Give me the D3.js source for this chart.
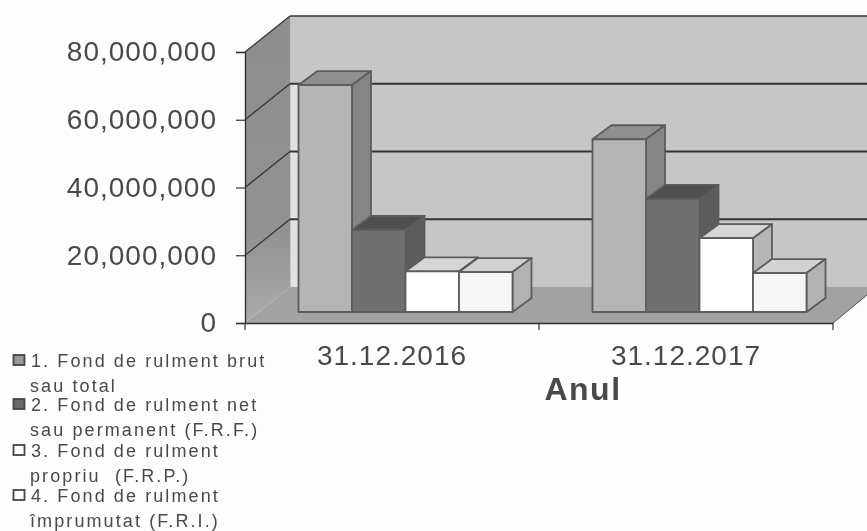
<!DOCTYPE html>
<html lang="en">
<head>
<meta charset="UTF-8">
<title>Fond de rulment</title>
<script src="https://d3js.org/d3.v7.min.js"></script>
<style>
  html, body { margin: 0; padding: 0; background: #fdfdfd; }
  svg { display: block; }
  text { font-family: "Liberation Sans", Arial, sans-serif; fill: #4a4a4a; }
  .axis-y text { font-size: 28px; letter-spacing: 1px; }
  .axis-x text { font-size: 28px; letter-spacing: 1px; }
  .axis-title { font-size: 32px; font-weight: bold; letter-spacing: 1.5px; }
  .legend text { font-size: 18px; letter-spacing: 2.1px; }
</style>
</head>
<body>
<div id="chart"></div>
<script>
// Values
const years = ["31.12.2016", "31.12.2017"];
const seriesNames = [
  ["1. Fond de rulment brut", "sau total"],
  ["2. Fond de rulment net", "sau permanent (F.R.F.)"],
  ["3. Fond de rulment", "propriu  (F.R.P.)"],
  ["4. Fond de rulment", "împrumutat (F.R.I.)"]
];
const brut = [67000000, 51000000];
const net = [24200000, 33400000];
const propriu = [12000000, 21800000];
const imprumutat = [11800000, 11500000];
const yTicks = [0, 20000000, 40000000, 60000000, 80000000];

const seriesValues = [brut, net, propriu, imprumutat];
const fronts = ["#b5b5b5", "#707070", "#ffffff", "#f6f6f6"];
const tops = ["#8f8f8f", "#505050", "#d6d6d6", "#d2d2d2"];
const sides = ["#858585", "#5c5c5c", "#b6b6b6", "#b2b2b2"];
const legendFill = ["#9a9a9a", "#6a6a6a", "#ffffff", "#ffffff"];

const width = 867, height = 531;
const x0 = 245, x1 = 833, yBase = 323, yTop = 52;
const wallDx = 45, wallDy = -36;   // fake 3D depth of the box
const barDx = 13.5, barDy = -11;   // where the bars stand in the box
const depthDx = 19, depthDy = -14; // depth of a bar
const line = "#333";

const x = d3.scaleBand().domain(years).range([x0, x1]);
const seriesX = d3.scaleBand().domain(d3.range(4)).range([0, 214]);
const y = d3.scaleLinear().domain([0, 80000000]).range([yBase, yTop]);

const svg = d3.select("#chart").append("svg")
  .attr("width", width).attr("height", height);

const defs = svg.append("defs");
defs.append("filter").attr("id", "scan")
  .append("feGaussianBlur").attr("stdDeviation", 0.7);
const grad = defs.append("linearGradient").attr("id", "sideWall")
  .attr("x1", 0).attr("y1", 0).attr("x2", 0).attr("y2", 1);
grad.append("stop").attr("offset", "0%").attr("stop-color", "#8d8d8d");
grad.append("stop").attr("offset", "70%").attr("stop-color", "#929292");
grad.append("stop").attr("offset", "100%").attr("stop-color", "#ababab");

const g = svg.append("g").attr("filter", "url(#scan)");
const poly = pts => pts.map(p => p.join(",")).join(" ");
const backX = x0 + wallDx;

// back wall, side wall, floor
g.append("rect")
  .attr("x", backX).attr("y", yTop + wallDy)
  .attr("width", width - backX).attr("height", yBase - yTop)
  .attr("fill", "#c6c6c6");
g.append("rect")
  .attr("x", backX + 1).attr("y", y(60000000) + wallDy)
  .attr("width", 8).attr("height", y(0) - y(60000000))
  .attr("fill", "#e2e2e2");
g.append("polygon")
  .attr("points", poly([[x0, yTop], [backX, yTop + wallDy], [backX, yBase + wallDy], [x0, yBase]]))
  .attr("fill", "url(#sideWall)");
g.append("polygon")
  .attr("points", poly([[x0, yBase], [backX, yBase + wallDy], [width, yBase + wallDy], [width, yBase - 28], [x1, yBase]]))
  .attr("fill", "#a2a2a2");

// grid lines run up the side wall and along the back
yTicks.slice(1).forEach(t => {
  g.append("line")
    .attr("x1", x0).attr("y1", y(t)).attr("x2", backX).attr("y2", y(t) + wallDy)
    .attr("stroke", line).attr("stroke-width", 1.3);
  g.append("line")
    .attr("x1", backX).attr("y1", y(t) + wallDy).attr("x2", width).attr("y2", y(t) + wallDy)
    .attr("stroke", line).attr("stroke-width", t === 80000000 ? 1.5 : 2);
});
g.append("line")
  .attr("x1", x1).attr("y1", yBase).attr("x2", width).attr("y2", yBase - 28)
  .attr("stroke", "#555");

// bars, left to right so each front covers its neighbour's side
years.forEach((yr, c) => {
  const groupX = x(yr) + x.bandwidth() / 2 - 107 + barDx;
  seriesValues.forEach((vals, s) => {
    const l = groupX + seriesX(s), r = l + seriesX.bandwidth();
    const t = y(vals[c]) + barDy, b = y(0) + barDy;
    const bar = g.append("g").attr("stroke", "#5c5c5c").attr("stroke-width", 1.8).attr("stroke-linejoin", "round");
    bar.append("polygon")
      .attr("points", poly([[l, t], [l + depthDx, t + depthDy], [r + depthDx, t + depthDy], [r, t]]))
      .attr("fill", tops[s]);
    bar.append("polygon")
      .attr("points", poly([[r, t], [r + depthDx, t + depthDy], [r + depthDx, b + depthDy], [r, b]]))
      .attr("fill", sides[s]);
    bar.append("rect")
      .attr("x", l).attr("y", t).attr("width", r - l).attr("height", b - t)
      .attr("fill", fronts[s]);
  });
});

// axes
const yAxis = g.append("g").attr("class", "axis-y")
  .attr("transform", `translate(${x0},0)`)
  .call(d3.axisLeft(y).tickValues(yTicks).tickSize(9).tickPadding(19).tickFormat(d3.format(",")));
const xAxis = g.append("g").attr("class", "axis-x")
  .attr("transform", `translate(0,${yBase})`)
  .call(d3.axisBottom(x).tickSize(0).tickPadding(22));
[yAxis, xAxis].forEach(a => {
  a.attr("font-size", null).attr("font-family", null);
  a.selectAll(".domain").attr("stroke", line).attr("stroke-width", 1.4);
  a.selectAll(".tick line").attr("stroke", line).attr("stroke-width", 1.2);
});
[x0, x0 + x.bandwidth(), x1].forEach(px => {
  g.append("line").attr("x1", px).attr("x2", px).attr("y1", yBase).attr("y2", yBase + 7)
    .attr("stroke", line).attr("stroke-width", 1.2);
});

g.append("text").attr("class", "axis-title")
  .attr("x", 583).attr("y", 400).attr("text-anchor", "middle")
  .text("Anul");

// legend
const legendY = [367, 411, 457, 502];
const legend = g.append("g").attr("class", "legend");
seriesNames.forEach((lines, i) => {
  legend.append("rect")
    .attr("x", 13.5).attr("y", legendY[i] - 12).attr("width", 11).attr("height", 10)
    .attr("fill", legendFill[i]).attr("stroke", "#444").attr("stroke-width", 1.8);
  legend.append("text").attr("x", 31).attr("y", legendY[i]).text(lines[0]);
  legend.append("text").attr("x", 30).attr("y", legendY[i] + 25).attr("xml:space", "preserve").text(lines[1]);
});
</script>
</body>
</html>
